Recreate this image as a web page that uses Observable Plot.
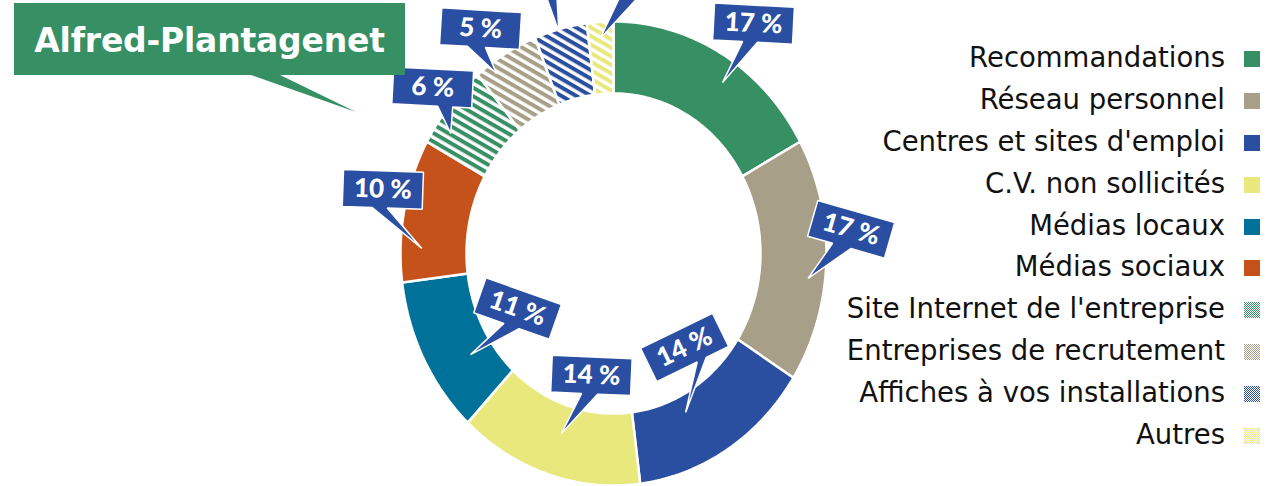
<!DOCTYPE html>
<html>
<head>
<meta charset="utf-8">
<script src="https://cdn.jsdelivr.net/npm/d3@7"></script>
<script src="https://cdn.jsdelivr.net/npm/@observablehq/plot@0.6"></script>
<style>
  html, body { margin: 0; padding: 0; background: #fff; }
  #wrap { position: relative; width: 1275px; height: 486px; overflow: hidden; font-family: "DejaVu Sans", sans-serif; }
  #chart { position: absolute; left: 0; top: 0; }
  #title { position: absolute; left: 14px; top: 3px; width: 391px; height: 72px; background: #378f64;
           color: #fff; font: 700 33px "DejaVu Sans", sans-serif; display: flex; align-items: center; justify-content: center; }
  #title span { position: relative; top: 1px; letter-spacing: -0.2px; }
  #tail { position: absolute; left: 248px; top: 74px; width: 110px; height: 40px; background: #378f64;
          clip-path: polygon(0 0, 30px 0, 108px 38px); }
  #legend { position: absolute; right: 15px; top: 38.6px; }
  .row { display: flex; justify-content: flex-end; align-items: center; height: 41.8px; }
  .row span { font-size: 27.5px; color: #111; position: relative; top: -2px; white-space: nowrap; }
  .row svg { margin-left: 19px; display: block; }
</style>
</head>
<body>
<div id="wrap">
  <div id="chart"></div>
  <div id="title"><span>Alfred-Plantagenet</span></div>
  <div id="tail"></div>
  <div id="legend"></div>
</div>
<script>
// ---- data ----
const categories = [
  "Recommandations", "Réseau personnel", "Centres et sites d'emploi", "C.V. non sollicités",
  "Médias locaux", "Médias sociaux", "Site Internet de l'entreprise", "Entreprises de recrutement",
  "Affiches à vos installations", "Autres"
];
const values = [17, 17, 14, 14, 11, 10, 6, 5, 4, 2];
const valueLabels = ["17 %", "17 %", "14 %", "14 %", "11 %", "10 %", "6 %", "5 %", "4 %", "2 %"];
const baseColors = ["#378f64", "#a89f88", "#2b4fa0", "#e8e87d", "#00729a", "#c5521b", "#378f64", "#a89f88", "#2b4fa0", "#e8e87d"];
const hatched = [false, false, false, false, false, false, true, true, true, true];

// ---- layout / styling (not data) ----
const cx = 613, cy = 253, rx = 213, ry = 232, innerFrac = 0.69;
const boxBlue = "#2a4ea2";
const boxW = 80, boxH = 37;
const calloutLayout = [
  {dAngle: 4.2,  r: 0.897, dx: 31,  dy: -59, rot: 3,    u1: -10, u2: 5},
  {dAngle: 4.9,  r: 0.92,  dx: 43,  dy: -49, rot: 16,   u1: -14, u2: 5},
  {dAngle: 6.1,  r: 0.764, dx: -1,  dy: -65, rot: -26,  u1: 5,   u2: 15},
  {dAngle: -0.5, r: 0.813, dx: 30,  dy: -58, rot: 2.5,  u1: -9,  u2: 7},
  {dAngle: -6,   r: 0.80,  dx: 47,  dy: -46, rot: 19.4, u1: -8,  u2: 8},
  {dAngle: -9.4, r: 0.90,  dx: -39, dy: -59, rot: 2,    u1: -10, u2: 5},
  {dAngle: -5.5, r: 0.923, dx: -18, dy: -46, rot: 3,    u1: 6,   u2: 21},
  {dAngle: -4.7, r: 0.95,  dx: -16, dy: -45, rot: 3.5,  u1: -12, u2: 6},
  {dAngle: -0.6, r: 0.99,  dx: -15, dy: -71, rot: 0,    u1: -4,  u2: 12},
  {dAngle: -0.2, r: 0.93,  dx: 50,  dy: -78, rot: 0,    u1: -22, u2: 5}
];

const fills = categories.map((c, i) => hatched[i] ? `url(#hatch-${i})` : baseColors[i]);
const data = categories.map((cat, i) => ({cat, value: values[i], label: valueLabels[i], i}));
const arcs = d3.pie().sort(null).value(d => d.value)(data);

const pt = (a, r) => ({x: cx + rx * r * Math.sin(a), y: cy - ry * r * Math.cos(a)});

// slice polygons
const slicePts = [];
for (const arc of arcs) {
  const n = Math.max(4, Math.ceil((arc.endAngle - arc.startAngle) * 60));
  const ring = [];
  for (let k = 0; k <= n; k++) ring.push(pt(arc.startAngle + (arc.endAngle - arc.startAngle) * k / n, 1));
  for (let k = n; k >= 0; k--) ring.push(pt(arc.startAngle + (arc.endAngle - arc.startAngle) * k / n, innerFrac));
  ring.push(ring[0]);
  for (const p of ring) slicePts.push({...p, cat: arc.data.cat});
}

// callouts
const calloutPts = [];
const calloutCenters = [];
arcs.forEach((arc, i) => {
  const L = calloutLayout[i];
  const mid = (arc.startAngle + arc.endAngle) / 2 + L.dAngle * Math.PI / 180;
  const tip = pt(mid, L.r);
  const c = {x: tip.x + L.dx, y: tip.y + L.dy};
  const t = L.rot * Math.PI / 180, co = Math.cos(t), si = Math.sin(t);
  const g = (u, v) => ({x: c.x + u * co - v * si, y: c.y + u * si + v * co});
  const w = boxW / 2, h = boxH / 2;
  const poly = [g(-w, -h), g(w, -h), g(w, h), g(L.u2, h), tip, g(L.u1, h), g(-w, h), g(-w, -h)];
  for (const p of poly) calloutPts.push({...p, cat: arc.data.cat});
  // the reference crops the boxes of the two smallest slices above the top edge: only their pointers show
  if (c.y - h > 0) calloutCenters.push({x: c.x, y: c.y, label: arc.data.label, rot: L.rot});
});

const chart = Plot.plot({
  width: 1275, height: 486, margin: 0,
  style: {background: "transparent", overflow: "visible"},
  x: {domain: [0, 1275], range: [0, 1275], axis: null},
  y: {domain: [0, 486], range: [0, 486], axis: null},
  color: {type: "ordinal", domain: categories, range: fills},
  marks: [
    Plot.line(slicePts, {x: "x", y: "y", z: "cat", fill: "cat", stroke: "white", strokeWidth: 2.5, strokeLinejoin: "miter", curve: "linear"}),
    Plot.line(calloutPts, {x: "x", y: "y", z: "cat", fill: boxBlue, stroke: "white", strokeWidth: 1.5, strokeLinejoin: "miter", curve: "linear"}),
    Plot.text(calloutCenters, {x: "x", y: "y", text: "label", rotate: "rot", fill: "white", fontSize: 26, fontWeight: 900, fontFamily: "Lato"})
  ]
});

// hatch patterns for the donut
const defs = d3.select(chart).insert("defs", ":first-child");
categories.forEach((c, i) => {
  if (!hatched[i]) return;
  const p = defs.append("pattern").attr("id", `hatch-${i}`).attr("patternUnits", "userSpaceOnUse")
    .attr("width", 10).attr("height", 7.4).attr("patternTransform", "rotate(30)");
  p.append("rect").attr("width", 10).attr("height", 7.4).attr("fill", "white");
  p.append("rect").attr("width", 10).attr("height", 4).attr("fill", baseColors[i]);
});
document.getElementById("chart").appendChild(chart);

// legend
const legend = document.getElementById("legend");
categories.forEach((c, i) => {
  const row = document.createElement("div");
  row.className = "row";
  const s = document.createElement("span");
  s.textContent = c;
  row.appendChild(s);
  const sw = hatched[i]
    ? `<svg width="16" height="16"><defs><pattern id="lg-${i}" patternUnits="userSpaceOnUse" width="2" height="2"><rect width="2" height="2" fill="white"/><rect width="1" height="1" fill="${baseColors[i]}"/><rect x="1" y="1" width="1" height="1" fill="${baseColors[i]}"/></pattern></defs><rect width="16" height="16" fill="url(#lg-${i})"/></svg>`
    : `<svg width="16" height="16"><rect width="16" height="16" fill="${baseColors[i]}"/></svg>`;
  row.insertAdjacentHTML("beforeend", sw);
  legend.appendChild(row);
});
</script>
</body>
</html>
